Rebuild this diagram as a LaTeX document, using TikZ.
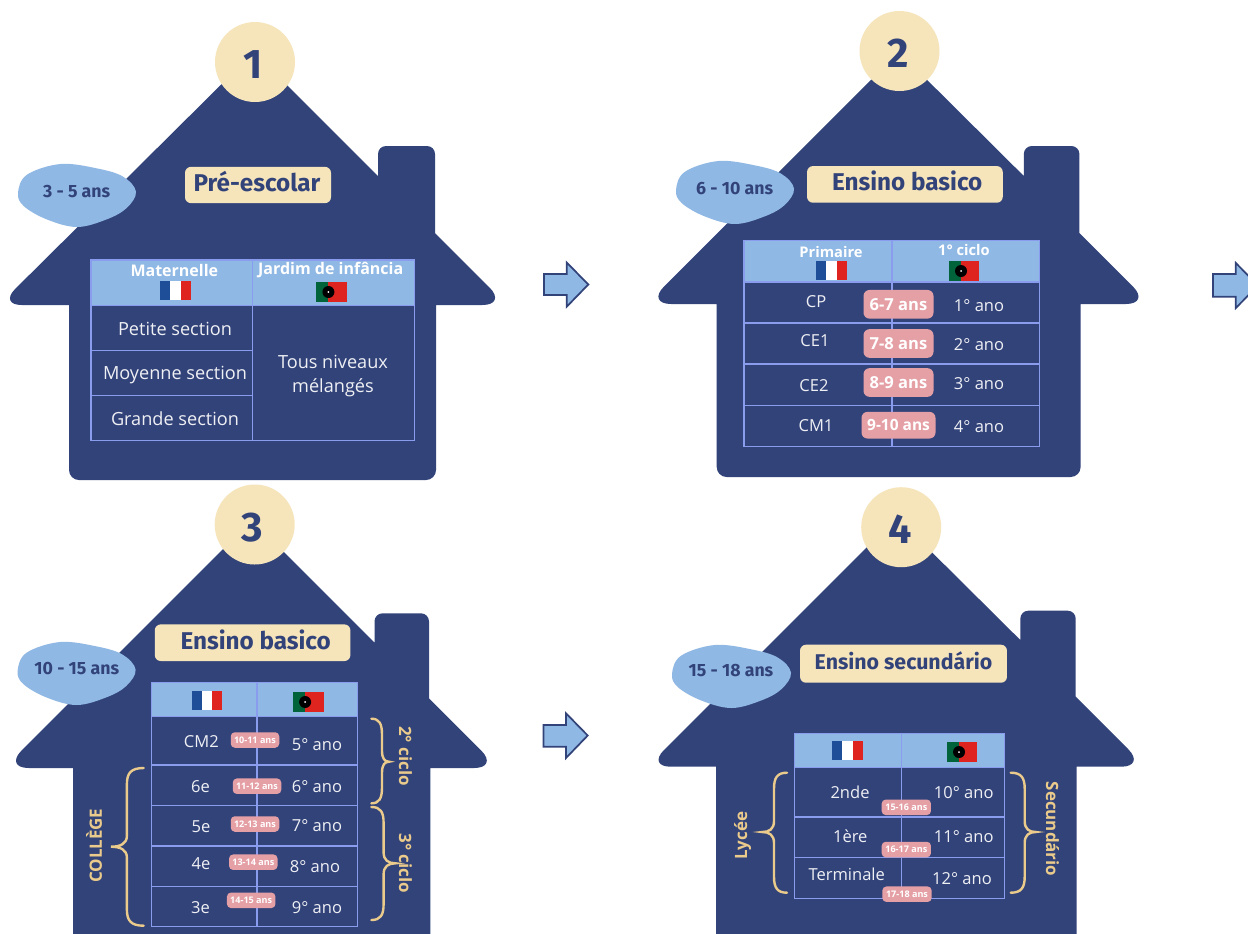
\documentclass[tikz,border=0pt]{standalone}
\usepackage{fontspec}
\setmainfont{Open Sans}
\newfontfamily\headf{Fira Sans}
\definecolor{navy}{HTML}{32437A}
\definecolor{cream}{HTML}{F6E5BB}
\definecolor{sky}{HTML}{90B8E4}
\definecolor{gridc}{HTML}{8A9CEE}
\definecolor{pink}{HTML}{E5A0A6}
\definecolor{gold}{HTML}{EBCB8B}
\definecolor{frblue}{HTML}{1F4E98}
\definecolor{frred}{HTML}{DF231E}
\definecolor{ptgreen}{HTML}{00633A}
\tikzset{
  housefill/.style={fill=navy},
  disc/.style={circle,fill=cream,text=navy,inner sep=0pt,minimum size=60pt,text height=24.8pt,text depth=0pt,font=\headf\bfseries\fontsize{31}{34}\selectfont},
  titlebox/.style={fill=cream,rounded corners=4.5pt,text=navy,inner sep=0pt,text height=12pt,text depth=2.9pt,font=\headf\bfseries\fontsize{18.2}{21}\selectfont},
  agetxt/.style={text=navy,inner sep=0pt,font=\headf\bfseries\fontsize{13.3}{15}\selectfont},
  gridline/.style={draw=gridc,line width=1.1pt},
  headfill/.style={fill=sky},
  hdr/.style={text=white,inner sep=0pt,font=\bfseries\fontsize{11}{13}\selectfont},
  hdrbig/.style={hdr,font=\bfseries\fontsize{12}{14}\selectfont},
  cell/.style={text=white!92!navy,inner sep=0pt,align=center,font=\fontsize{13.6}{18.7}\selectfont},
  cellb/.style={text=white!92!navy,inner sep=0pt,font=\fontsize{12.4}{15}\selectfont},
  pillbig/.style={fill=pink,text=white,rounded corners=4.5pt,inner sep=0pt,minimum height=21.5pt,font=\bfseries\fontsize{12.4}{14}\selectfont},
  pillsmall/.style={fill=pink,text=white,rounded corners=3pt,inner sep=0pt,minimum height=11.6pt,font=\bfseries\fontsize{6.8}{8}\selectfont},
  bracel/.style={draw=gold,line width=1.8pt,line cap=round},
  goldtxt/.style={text=gold,inner sep=0pt,font=\bfseries\fontsize{12.7}{15}\selectfont},
  flow/.style={draw=navy,fill=sky,line width=1.3pt,line join=miter},
}
% blob: left, top, width
\newcommand{\Blob}[3]{\fill[sky,shift={(#1,#2)},x=#3*0.75pt,y=-47.25pt] plot[smooth cycle,tension=0.6] coordinates {(.36,0) (.67,.07) (.89,.2) (1,.44) (.92,.70) (.75,.88) (.5,1) (.245,.88) (.05,.67) (0,.46) (.076,.17)};}
% flags: left, top, width, height
\newcommand{\FlagFR}[4]{\fill[frblue] (#1,#2) rectangle ++(#3/3,#4);\fill[white] (#1+#3/3,#2) rectangle ++(#3/3,#4);\fill[frred] (#1+2*#3/3,#2) rectangle ++(#3/3,#4);}
\newcommand{\FlagPT}[4]{\fill[frred] (#1,#2) rectangle ++(#3,#4);\fill[ptgreen] (#1,#2) rectangle ++(0.4*#3,#4);\fill[black] (#1+0.4*#3,#2+0.5*#4) circle[radius=6];\fill[white] (#1+0.4*#3,#2+0.5*#4) circle[radius=1];}
% pill: name, centre x, centre y, width(px), style, text
\newcommand{\Pill}[6]{\node[#5,minimum width=#4*0.75pt] (#1) at (#2,#3) {#6};}
% brace: end x, spine x, tip x, top y, mid y, bottom y
\newcommand{\Brace}[6]{\pgfmathsetmacro{\ea}{#2+0.25*(#1-#2)}\pgfmathsetmacro{\tb}{#2+0.4*(#3-#2)}
\draw[bracel] (#1,#4) .. controls (\ea,#4) and (#2,#4+5) .. (#2,#4+16) -- (#2,#5-11) .. controls (#2,#5-3) and (\tb,#5) .. (#3,#5) .. controls (\tb,#5) and (#2,#5+3) .. (#2,#5+11) -- (#2,#6-16) .. controls (#2,#6-5) and (\ea,#6) .. (#1,#6);}
% arrow: left, head x, tip x, shaft top, shaft bottom, head top, mid, head bottom
\newcommand{\FlowArrow}[8]{\draw[flow] (#1,#4) -- (#2,#4) -- (#2,#6) -- (#3,#7) -- (#2,#8) -- (#2,#5) -- (#1,#5) -- cycle;}
\begin{document}
\begin{tikzpicture}[x=0.75pt,y=-0.75pt]
\useasboundingbox (0,0) rectangle (1248,933);
\fill[white] (0,0) rectangle (1248,933);

%%% houses
\fill[housefill] (254,52) -- (378,176) [rounded corners=6pt] -- (378,146) -- (435,146) [sharp corners] -- (435,233) [rounded corners=18.5pt] -- (507,305) [sharp corners] -- (436,305) [rounded corners=7.5pt] -- (436,480) -- (69,480) [sharp corners] -- (69,305) [rounded corners=17pt] -- (-1,305) [sharp corners] -- cycle;
\fill[housefill] (899,52) -- (1023.8,176) [rounded corners=6pt] -- (1023.8,146) -- (1079.4,146) [sharp corners] -- (1079.4,233) [rounded corners=18.5pt] -- (1150.4,304) [sharp corners] -- (1080.6,304) [rounded corners=7.5pt] -- (1080.6,477) -- (716.7,477) [sharp corners] -- (716.7,304) [rounded corners=18.5pt] -- (646.5,304) [sharp corners] -- cycle;
\fill[housefill] (252,520) -- (374.5,642.7) [rounded corners=6pt] -- (374.5,613.3) -- (429,613.3) [sharp corners] -- (429,698.3) [rounded corners=18.5pt] -- (498.7,768) [sharp corners] -- (430.3,768) -- (430.3,960) -- (73,960) -- (73,768) [rounded corners=18.5pt] -- (4.1,768) [sharp corners] -- cycle;
\fill[housefill] (896.7,517.3) -- (1020.3,640) [rounded corners=6pt] -- (1020.3,610.7) -- (1075.7,610.7) [sharp corners] -- (1075.7,696.7) [rounded corners=18.5pt] -- (1145.7,766.7) [sharp corners] -- (1076.7,766.7) -- (1076.7,960) -- (716,960) -- (716,766.7) [rounded corners=17.5pt] -- (647.3,766.7) [sharp corners] -- cycle;

%%% discs
\node[disc] (d1) at (255,62) {\hspace*{-3pt}1};
\node[disc] (d2) at (899.5,51) {\hspace*{-2pt}2};
\node[disc] (d3) at (254.7,524.5) {\hspace*{-3pt}3};
\node[disc] (d4) at (901.2,527.2) {\hspace*{-2pt}4};

%%% titles
\node[titlebox,minimum width=109.5pt,minimum height=27.2pt] (t1) at (258,185) {\hspace*{-1.5pt}Pré-escolar};
\node[titlebox,minimum width=146.8pt,minimum height=27.5pt] (t2) at (904.9,184.4) {\hspace*{3.5pt}Ensino basico};
\node[titlebox,minimum width=146.7pt,minimum height=27.5pt,text depth=1.4pt] (t3) at (252.6,642.7) {\hspace*{4.5pt}Ensino basico};
\node[titlebox,minimum width=155.2pt,minimum height=28.5pt,font=\headf\bfseries\fontsize{16}{18}\selectfont] (t4) at (903.5,663.7) {Ensino secundário};

%%% age blobs
\Blob{18}{164}{118}
\Blob{676}{161}{118}
\Blob{17.6}{642}{118}
\Blob{672}{645}{119}
\node[agetxt] (a1) at (76.7,191.3) {3 - 5 ans};
\node[agetxt] (a2) at (734.7,188.3) {6 - 10 ans};
\node[agetxt] (a3) at (76.8,669) {10 - 15 ans};
\node[agetxt] (a4) at (731,671) {15 - 18 ans};

%%% table 1
\fill[headfill] (91,260) rectangle (414.5,305.7);
\draw[gridline] (91,260) rectangle (414.5,440.7);
\draw[gridline] (91,305.7) -- (414.5,305.7);
\draw[gridline] (91,350.7) -- (252.7,350.7) (91,395.7) -- (252.7,395.7);
\draw[gridline] (252.7,260) -- (252.7,440.7);
\node[hdrbig] (h11) at (174.3,270.3) {Maternelle};
\node[hdrbig] (h12) at (330.7,270.3) {Jardim de infância};
\FlagFR{160}{281}{31}{19}
\FlagPT{316}{282}{31}{20}
\node[cell] (c11) at (175,329) {Petite section};
\node[cell] (c12) at (175,375.5) {Moyenne section};
\node[cell] (c13) at (175,418.7) {Grande section};
\node[cell] (c14) at (333,376) {Tous niveaux\\mélangés};

%%% table 2
\fill[headfill] (744,240.5) rectangle (1039.4,282);
\draw[gridline] (744,240.5) rectangle (1039.4,446.7);
\draw[gridline] (744,282) -- (1039.4,282) (744,323) -- (1039.4,323) (744,364) -- (1039.4,364) (744,405.7) -- (1039.4,405.7);
\draw[gridline] (891.8,240.5) -- (891.8,446.7);
\node[hdr] (h21) at (831,252) {Primaire};
\node[hdr] (h22) at (964,250) {1° ciclo};
\FlagFR{816}{261}{31}{19}
\FlagPT{949}{261}{30}{20}
\node[cellb] (c21) at (816,302) {CP};
\node[cellb] (c22) at (815,341) {CE1};
\node[cellb] (c23) at (814,386) {CE2};
\node[cellb] (c24) at (816,426) {CM1};
\node[cellb] (c25) at (979,305.7) {1° ano};
\node[cellb] (c26) at (979,344.7) {2° ano};
\node[cellb] (c27) at (979,384) {3° ano};
\node[cellb] (c28) at (979,426.7) {4° ano};
\Pill{p21}{898.5}{304.3}{70}{pillbig}{6-7 ans}
\Pill{p22}{898.5}{343.5}{70}{pillbig}{7-8 ans}
\Pill{p23}{898.5}{382.5}{70}{pillbig}{8-9 ans}
\Pill{p24}{898.5}{425.2}{74}{pillbig,minimum height=20pt,font=\bfseries\fontsize{11.6}{14}\selectfont}{9-10 ans}

%%% table 3
\fill[headfill] (151.7,682.7) rectangle (357.7,716.7);
\draw[gridline] (151.7,682.7) rectangle (357.7,926.7);
\draw[gridline] (151.7,716.7) -- (357.7,716.7) (151.7,765) -- (357.7,765) (151.7,805.3) -- (357.7,805.3) (151.7,846) -- (357.7,846) (151.7,886.7) -- (357.7,886.7);
\draw[gridline] (256.8,682.7) -- (256.8,926.7);
\FlagFR{191.8}{691}{30}{19}
\FlagPT{292.7}{692}{31}{20}
\node[cellb] (c31) at (201.4,741.3) {CM2};
\node[cellb] (c32) at (200.6,787) {6e};
\node[cellb] (c33) at (201,827) {5e};
\node[cellb] (c34) at (201,863.3) {4e};
\node[cellb] (c35) at (200.6,907.3) {3e};
\node[cellb] (c36) at (317,744.3) {5° ano};
\node[cellb] (c37) at (317,786.3) {6° ano};
\node[cellb] (c38) at (317,825.7) {7° ano};
\node[cellb] (c39) at (315,866.7) {8° ano};
\node[cellb] (c30) at (317,907.7) {9° ano};
\Pill{p31}{255}{740}{48.5}{pillsmall}{10-11 ans}
\Pill{p32}{257}{786.2}{48.5}{pillsmall}{11-12 ans}
\Pill{p33}{255}{824}{48.5}{pillsmall}{12-13 ans}
\Pill{p34}{253.3}{862.2}{48.5}{pillsmall}{13-14 ans}
\Pill{p35}{251.2}{900.3}{48.5}{pillsmall}{14-15 ans}
\Brace{143.7}{126.9}{110.8}{768}{846.7}{925.7}
\Brace{371.4}{382}{389}{718.7}{761.7}{803.3}
\Brace{371.4}{383.6}{395.5}{807}{863.3}{920}
\node[goldtxt,rotate=90] (g31) at (94,845.7) {COLLÈGE};
\node[goldtxt,rotate=-90] (g32) at (405.5,756) {2° ciclo};
\node[goldtxt,rotate=-90] (g33) at (405.5,863.3) {3° ciclo};

%%% table 4
\fill[headfill] (794.3,733.3) rectangle (1004.3,767.3);
\draw[gridline] (794.3,733.3) rectangle (1004.3,898.7);
\draw[gridline] (794.3,767.3) -- (1004.3,767.3) (794.3,817) -- (1004.3,817) (794.3,857.7) -- (1004.3,857.7);
\draw[gridline] (901.7,733.3) -- (901.7,898.7);
\FlagFR{832}{741}{31}{19}
\FlagPT{947}{742}{30}{20}
\node[cellb] (c41) at (850,792.3) {2nde};
\node[cellb] (c42) at (850.3,836.3) {1ère};
\node[cellb] (c43) at (846.7,874.3) {Terminale};
\node[cellb] (c44) at (963.7,792.3) {10° ano};
\node[cellb] (c45) at (963.7,836.3) {11° ano};
\node[cellb] (c46) at (962,878.3) {12° ano};
\Pill{p41}{906.3}{807.3}{49.3}{pillsmall}{15-16 ans}
\Pill{p42}{906.3}{849.5}{49.3}{pillsmall}{16-17 ans}
\Pill{p43}{907}{894.2}{49.3}{pillsmall}{17-18 ans}
\Brace{787}{774}{762.3}{772.7}{832}{892.7}
\Brace{1010.7}{1024.7}{1035.7}{772.7}{832}{892.7}
\node[goldtxt,rotate=90] (g41) at (742.7,835.7) {Lycée};
\node[goldtxt,rotate=-90] (g42) at (1052.5,829) {Secundário};

%%% arrows
\FlowArrow{544}{566.7}{588.3}{274}{295}{262.5}{284.5}{306.7}
\FlowArrow{1213}{1235.8}{1258}{274}{296.7}{263}{285.5}{308}
\FlowArrow{543.5}{566}{587.7}{725}{746.7}{713.3}{735.5}{758}
\end{tikzpicture}
\end{document}
